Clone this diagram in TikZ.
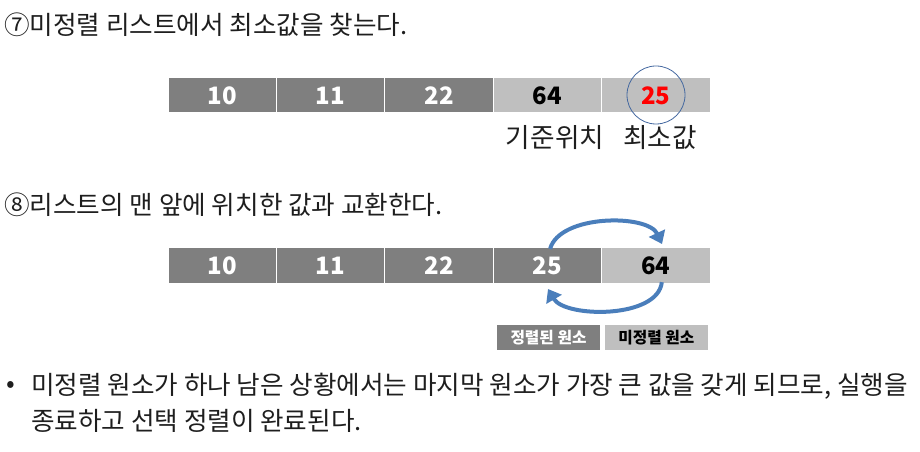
\documentclass[tikz,border=0pt]{standalone}
\usepackage{fontspec}
\setmainfont{Noto Sans CJK KR}
\usetikzlibrary{arrows.meta, positioning}
\definecolor{sortedgray}{RGB}{127, 127, 127}
\definecolor{opengray}{RGB}{191, 191, 191}
\definecolor{swapblue}{RGB}{74, 126, 187}
\definecolor{ringblue}{RGB}{68, 104, 160}
\definecolor{textgray}{RGB}{30, 30, 30}

\begin{document}
\begin{tikzpicture}[x=0.75pt, y=-0.75pt,
    cell/.style={minimum width=81.3pt, minimum height=26.25pt, inner sep=0pt,
        draw=white, line width=0.75pt, font=\fontsize{18}{18}\selectfont\bfseries},
    donecell/.style={cell, fill=sortedgray, text=white},
    opencell/.style={cell, fill=opengray, text=black},
    heading/.style={anchor=west, inner sep=0pt, text=textgray, font=\fontsize{19.2}{22}\selectfont},
    keybox/.style={minimum width=77pt, minimum height=18.75pt, inner sep=0pt,
        font=\fontsize{11.8}{12}\selectfont\bfseries},
    swap/.style={swapblue, line width=3pt, -{Triangle[width=13pt, length=9pt]}}]
    \useasboundingbox (0,0) rectangle (920,452);

    % Step 7: find minimum
    \node[heading] (title7) at (4,25) {⑦미정렬 리스트에서 최소값을 찾는다.};
    \node[donecell] (r1a) at (222.2,95.5) {10};
    \node[donecell] (r1b) at (330.6,95.5) {11};
    \node[donecell] (r1c) at (439.0,95.5) {22};
    \node[opencell] (r1d) at (547.4,95.5) {64};
    \node[opencell, text=red] (r1e) at (655.8,95.5) {25};
    \node[circle, draw=ringblue, line width=0.6pt, minimum size=43.5pt] (minring) at (656,95) {};
    \node[heading, anchor=center, font=\fontsize{20}{22}\selectfont] (basepos) at (555,138) {기준위치};
    \node[heading, anchor=center, font=\fontsize{20}{22}\selectfont] (minval) at (660,138) {최소값};

    % Step 8: swap with front
    \node[heading] (title8) at (4,205) {⑧리스트의 맨 앞에 위치한 값과 교환한다.};
    \node[donecell] (r2a) at (222.2,265.5) {10};
    \node[donecell] (r2b) at (330.6,265.5) {11};
    \node[donecell] (r2c) at (439.0,265.5) {22};
    \node[donecell] (r2d) at (547.4,265.5) {25};
    \node[opencell] (r2e) at (655.8,265.5) {64};
    \coordinate (topend) at (662,244);
    \coordinate (botend) at (548,289);
    \draw[swap] ([xshift=2pt, yshift=-1pt]r2d.north) .. controls (560,214) and (648,214) .. (topend);
    \draw[swap] ([xshift=4.5pt, yshift=1pt]r2e.south) .. controls (658,319) and (565,318) .. (botend);

    % Legend
    \node[keybox, fill=sortedgray, text=white] (donekey) at (548.5,337.5) {정렬된 원소};
    \node[keybox, fill=opengray, text=black, right=3.5pt of donekey] (openkey) {미정렬 원소};

    % Closing note
    \node[heading] (dot) at (6,387) {•};
    \node[heading] (note1) at (31,386) {미정렬 원소가 하나 남은 상황에서는 마지막 원소가 가장 큰 값을 갖게 되므로, 실행을};
    \node[heading] (note2) at (31,421) {종료하고 선택 정렬이 완료된다.};
\end{tikzpicture}
\end{document}
